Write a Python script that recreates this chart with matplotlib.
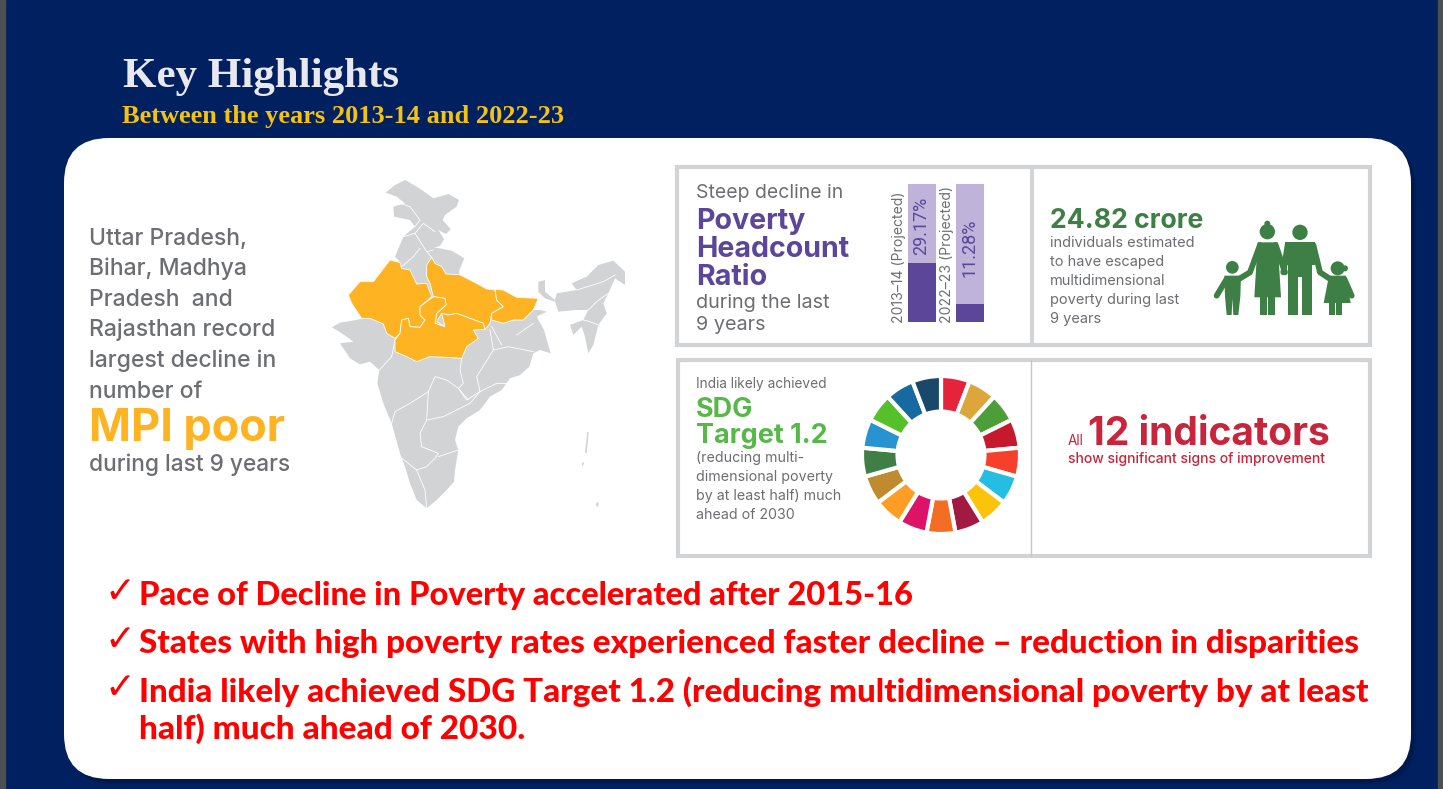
import matplotlib
matplotlib.use("Agg")
import matplotlib.pyplot as plt
from matplotlib.patches import FancyBboxPatch, Polygon, Rectangle, Circle

W, H = 1443, 789

# Bars in the headcount card (filled share of each bar)
bar_years = ["2013–14 (Projected)", "2022–23 (Projected)"]
bar_labels = ["29.17%", "11.28%"]
bar_fill = [43, 13]

# SDG wheel, clockwise from the top
sdg_colors = ["#e5243b", "#dda63a", "#4c9f38", "#c5192d", "#f6402b", "#26bde2",
              "#fcc30b", "#a21942", "#f36d25", "#dd1367", "#fd9d24", "#bf8b2e",
              "#3f7e44", "#2793d1", "#56c02b", "#17699f", "#19486a"]
sdg_values = [1] * 17

left_lines = ["Uttar Pradesh,", "Bihar, Madhya", "Pradesh  and", "Rajasthan record",
              "largest decline in", "number of"]
bullets = ["Pace of Decline in Poverty accelerated after 2015-16",
           "States with high poverty rates experienced faster decline – reduction in disparities",
           "India likely achieved SDG Target 1.2 (reducing multidimensional poverty by at least",
           "half) much ahead of 2030."]

# Map outlines
india_main = [(197,68),(225,45),(255,30),(290,50),(320,70),(340,85),(385,72),(417,90),(410,110),
              (375,135),(368,150),(392,178),(378,192),(355,180),(372,208),(360,228),(342,232),
              (395,242),(433,265),(418,300),(418,312),(470,340),(500,357),(550,360),
              (590,382),(655,385),(640,420),(660,420),(680,425),(650,440),(672,480),(692,550),
              (660,540),(640,550),(628,590),(600,615),(570,625),(545,660),(510,680),(480,720),
              (440,745),(415,770),(405,810),(415,840),(405,900),(402,935),(380,960),(350,990),
              (320,1015),(290,990),(270,940),(255,890),(240,850),(215,760),(190,700),(172,640),
              (178,600),(150,575),(120,583),(90,565),(60,520),(100,515),(80,500),(50,480),
              (35,472),(60,458),(110,450),(125,445),(95,400),(85,375),(120,335),(160,335),
              (210,270),(240,275),(225,260),(250,200),(285,170),(270,150),(222,140),(220,110),
              (255,100),(230,80)]
india_ne = [(655,335),(675,330),(675,365),(705,390),(710,370),(770,360),(755,340),(800,320),
            (835,285),(880,272),(915,305),(915,345),(885,325),(865,370),(850,400),(860,430),
            (835,465),(820,525),(805,550),(795,500),(785,470),(760,495),(750,465),(790,450),
            (805,420),(770,420),(715,425),(705,395),(675,385),(655,365)]
islands = [[(802,785),(806,787),(800,850),(795,848)], [(786,878),(792,878),(790,886),(786,886)],
           [(830,995),(836,1000),(834,1012),(828,1005)]]
rajasthan = [(85,375),(120,335),(160,335),(210,270),(240,278),(245,295),(270,300),(290,342),
             (320,340),(335,380),(300,410),(300,435),(315,450),(300,472),(270,470),(265,445),
             (245,450),(240,490),(225,505),(200,490),(190,462),(150,445),(125,445),(95,400)]
uttar_pradesh = [(320,285),(335,262),(345,280),(365,290),(378,312),(418,314),(470,340),(500,357),
                 (525,360),(530,390),(550,410),(515,430),(510,460),(495,478),(490,460),(450,445),
                 (410,430),(385,435),(365,430),(350,455),(375,470),(345,460),(350,430),(378,405),
                 (375,385),(340,380),(330,340),(320,320)]
madhya_pradesh = [(225,510),(240,490),(245,450),(265,445),(270,470),(300,472),(315,450),(300,435),
                  (300,410),(340,380),(375,385),(378,405),(350,430),(345,460),(375,470),(365,430),
                  (385,435),(410,430),(450,445),(490,460),(495,478),(460,480),(475,505),(440,530),
                  (425,565),(380,562),(330,560),(290,575),(260,560),(225,545)]
bihar = [(525,358),(550,360),(590,382),(655,385),(640,420),(610,450),(580,450),(550,460),
         (515,450),(515,430),(550,410),(530,390)]
state_lines = [[(285,170),(300,150),(270,110),(240,100)],
               [(285,190),(310,160),(345,185)],
               [(250,200),(285,190),(320,245),(335,262)],
               [(340,240),(320,245)],
               [(245,290),(280,260),(300,235)],
               [(178,600),(215,560),(225,510)],
               [(215,760),(225,725),(270,700),(325,665),(345,620),(380,630),(415,655),(445,690)],
               [(425,565),(420,600),(430,640),(415,655),(440,690),(480,665),(470,620),(520,540),(510,480)],
               [(480,665),(530,640),(560,640)],
               [(520,540),(565,530),(640,545)],
               [(515,470),(545,525)],
               [(590,495),(640,460)],
               [(325,665),(320,750),(300,790),(305,830),(355,850),(345,865),(320,890),(290,900),(240,860)],
               [(320,750),(370,740),(450,700),(480,665)],
               [(355,860),(415,840)],
               [(290,900),(315,960),(320,1015)],
               [(770,360),(850,335),(885,315)],
               [(805,420),(830,395),(865,370)],
               [(790,450),(810,455),(835,465)]]


def map_xy(pts):
    return [(320 + x / 3, 170 + y / 3) for x, y in pts]


def fam_xy(pts):
    return [(1035 + x / 3, 165 + y / 3) for x, y in pts]


fig = plt.figure(figsize=(W / 100, H / 100), dpi=100, facecolor="#002060")
ax = fig.add_axes([0, 0, 1, 1])
ax.set_xlim(0, W)
ax.set_ylim(H, 0)
ax.axis("off")


def txt(x, y, s, px, color, family="Inter", weight="normal", **kw):
    kw.setdefault("va", "baseline")
    ax.text(x, y, s, fontsize=px * 0.72, color=color, family=family, weight=weight, **kw)


def inset(x0, y0, x1, y1):
    a = fig.add_axes([x0 / W, 1 - y1 / H, (x1 - x0) / W, (y1 - y0) / H])
    a.axis("off")
    return a


# Page
ax.add_patch(Rectangle((0, 0), 5, H, color="#4d5052", zorder=1))
ax.add_patch(Rectangle((1438, 0), 5, H, color="#4d5052", zorder=1))
txt(123, 87, "Key Highlights", 43, "#e8e8ee", "Liberation Serif", "bold")
txt(122, 123, "Between the years 2013-14 and 2022-23", 26.4, "#f5c211", "Liberation Serif", "bold")

for off, alpha in [(5, 0.2), (3, 0.3)]:
    ax.add_patch(FancyBboxPatch((64 + 45 + off, 138 + 45 + off), 1347 - 90, 641 - 90,
                                boxstyle="round,pad=45,rounding_size=45",
                                fc="#00102f", ec="none", alpha=alpha, zorder=1))
ax.add_patch(FancyBboxPatch((64 + 45, 138 + 45), 1347 - 90, 641 - 90,
                            boxstyle="round,pad=45,rounding_size=45",
                            fc="white", ec="none", zorder=2))

# Left text
grey = "#6d6e71"
for line, y in zip(left_lines, [245, 275, 306, 336, 367, 398]):
    txt(89, y, line, 23, grey, weight=500, zorder=3)
txt(89, 441, "MPI poor", 45, "#fdb322", weight="bold", zorder=3)
txt(89, 471, "during last 9 years", 22.7, grey, weight=500, zorder=3)

# Map
for poly in [india_main, india_ne] + islands:
    ax.add_patch(Polygon(map_xy(poly), fc="#d1d3d4", ec="none", zorder=3))
for poly in state_lines:
    xy = map_xy(poly)
    ax.plot([p[0] for p in xy], [p[1] for p in xy], color="white", lw=0.6, zorder=4)
for poly in [rajasthan, uttar_pradesh, madhya_pradesh, bihar]:
    ax.add_patch(Polygon(map_xy(poly), fc="#fdb322", ec="white", lw=0.6, zorder=5))

# Card frames
frame = "#d1d3d4"
ax.add_patch(Rectangle((677, 167), 693, 178, fc="none", ec=frame, lw=3, zorder=3))
ax.plot([1032, 1032], [167, 345], color=frame, lw=3, zorder=3)
ax.add_patch(Rectangle((678, 360), 692, 196, fc="none", ec=frame, lw=3, zorder=3))
ax.plot([1031, 1031], [360, 556], color="#c4c6c8", lw=1, zorder=3)

# Headcount card
purple = "#5c4699"
txt(696, 198, "Steep decline in", 19.4, grey, zorder=3)
for line, y in zip(["Poverty", "Headcount", "Ratio"], [229, 257, 285]):
    txt(696, y, line, 28.6, purple, weight="bold", zorder=3)
txt(696, 308, "during the last", 19.8, grey, zorder=3)
txt(696, 330, "9 years", 19.8, grey, zorder=3)

bar_ax = inset(908, 184, 984, 322)
bar_ax.set_xlim(-0.29, 1.29)
bar_ax.set_ylim(0, 100)
bar_ax.bar([0, 1], [100, 100], width=0.583, color="#bfb3d9")
bar_ax.bar([0, 1], bar_fill, width=0.583, color=purple)
bar_ax.axis("off")
for x, y, s in zip([0, 1], [70, 54], bar_labels):
    bar_ax.text(x - 0.02, y, s, fontsize=13, color=purple, family="Roboto", rotation=90,
                ha="center", va="center")
for x, s in zip([899, 947], bar_years):
    txt(x, 323, s, 14, grey, rotation=90, ha="center", va="bottom", zorder=3)

# Crore card
green = "#3d7f45"
txt(1050, 228, "24.82 crore", 26.6, green, weight="bold", zorder=3)
for line, y in zip(["individuals estimated", "to have escaped", "multidimensional",
                    "poverty during last", "9 years"], [247, 266, 285, 304, 323]):
    txt(1050, y, line, 14.6, grey, zorder=3)

# Family icon
for cx, cy, r in [(592, 307, 19), (697, 200, 23), (795, 202, 23), (908, 310, 21),
                  (697, 176, 9), (930, 310, 9)]:
    xy = fam_xy([(cx, cy)])[0]
    ax.add_patch(Circle(xy, r / 3, fc=green, ec="none", zorder=3))
family_shapes = [
    [(668, 232), (728, 232), (738, 397), (658, 397)],
    [(675, 395), (695, 395), (695, 450), (675, 450)],
    [(700, 395), (720, 395), (720, 450), (700, 450)],
    [(750, 232), (840, 232), (840, 300), (830, 300), (830, 450), (800, 450), (800, 335),
     (790, 335), (790, 450), (760, 450), (760, 300), (750, 300)],
    [(568, 332), (618, 332), (616, 395), (610, 450), (595, 450), (592, 400), (590, 450),
     (575, 450), (570, 395)],
    [(882, 332), (932, 332), (947, 414), (866, 414)],
    [(883, 410), (899, 410), (899, 450), (883, 450)],
    [(904, 410), (920, 410), (920, 450), (904, 450)],
]
for poly in family_shapes:
    ax.add_patch(Polygon(fam_xy(poly), fc=green, ec="none", zorder=3))
family_arms = [[(675, 240), (645, 322), (612, 342)], [(722, 240), (750, 322)],
               [(758, 240), (745, 322)], [(835, 240), (855, 322), (890, 345)],
               [(575, 342), (545, 392)], [(928, 342), (950, 392)]]
for arm in family_arms:
    xy = fam_xy(arm)
    ax.plot([p[0] for p in xy], [p[1] for p in xy], color=green, lw=4.2,
            solid_capstyle="round", zorder=3)

# SDG card
txt(696, 388, "India likely achieved", 13.7, grey, zorder=3)
sdg_green = "#56b848"
txt(696, 417, "SDG", 27, sdg_green, weight="bold", zorder=3)
txt(696, 443, "Target 1.2", 27, sdg_green, weight="bold", zorder=3)
for line, y in zip(["(reducing multi-", "dimensional poverty", "by at least half) much", "ahead of 2030"],
                   [462, 481, 500, 519]):
    txt(696, y, line, 14.2, grey, zorder=3)

wheel_ax = inset(941 - 79, 455 - 79, 941 + 79, 455 + 79)
wheel_ax.pie(sdg_values, colors=sdg_colors, startangle=90, counterclock=False, radius=1,
             wedgeprops=dict(width=0.45, edgecolor="white", linewidth=3))
wheel_ax.set_xlim(-1, 1)
wheel_ax.set_ylim(-1, 1)

# Indicators card
red = "#c8243c"
txt(1068, 445, "All", 13.5, red, zorder=3)
txt(1088, 445, "12 indicators", 39, red, weight="bold", zorder=3)
txt(1068, 463, "show significant signs of improvement", 13.9, red, weight=500, zorder=3)

# Bullets
for line, y, px in zip(bullets, [605, 653, 702, 739], [32.6, 33.2, 33.2, 33.4]):
    txt(139, y, line, px, "#ff0000", "Lato", 900, zorder=3)
for y in [603, 651, 699]:
    txt(104, y, "✓", 37, "#ff0000", "DejaVu Sans", zorder=3)

fig.savefig("out.png", dpi=100, facecolor=fig.get_facecolor())
